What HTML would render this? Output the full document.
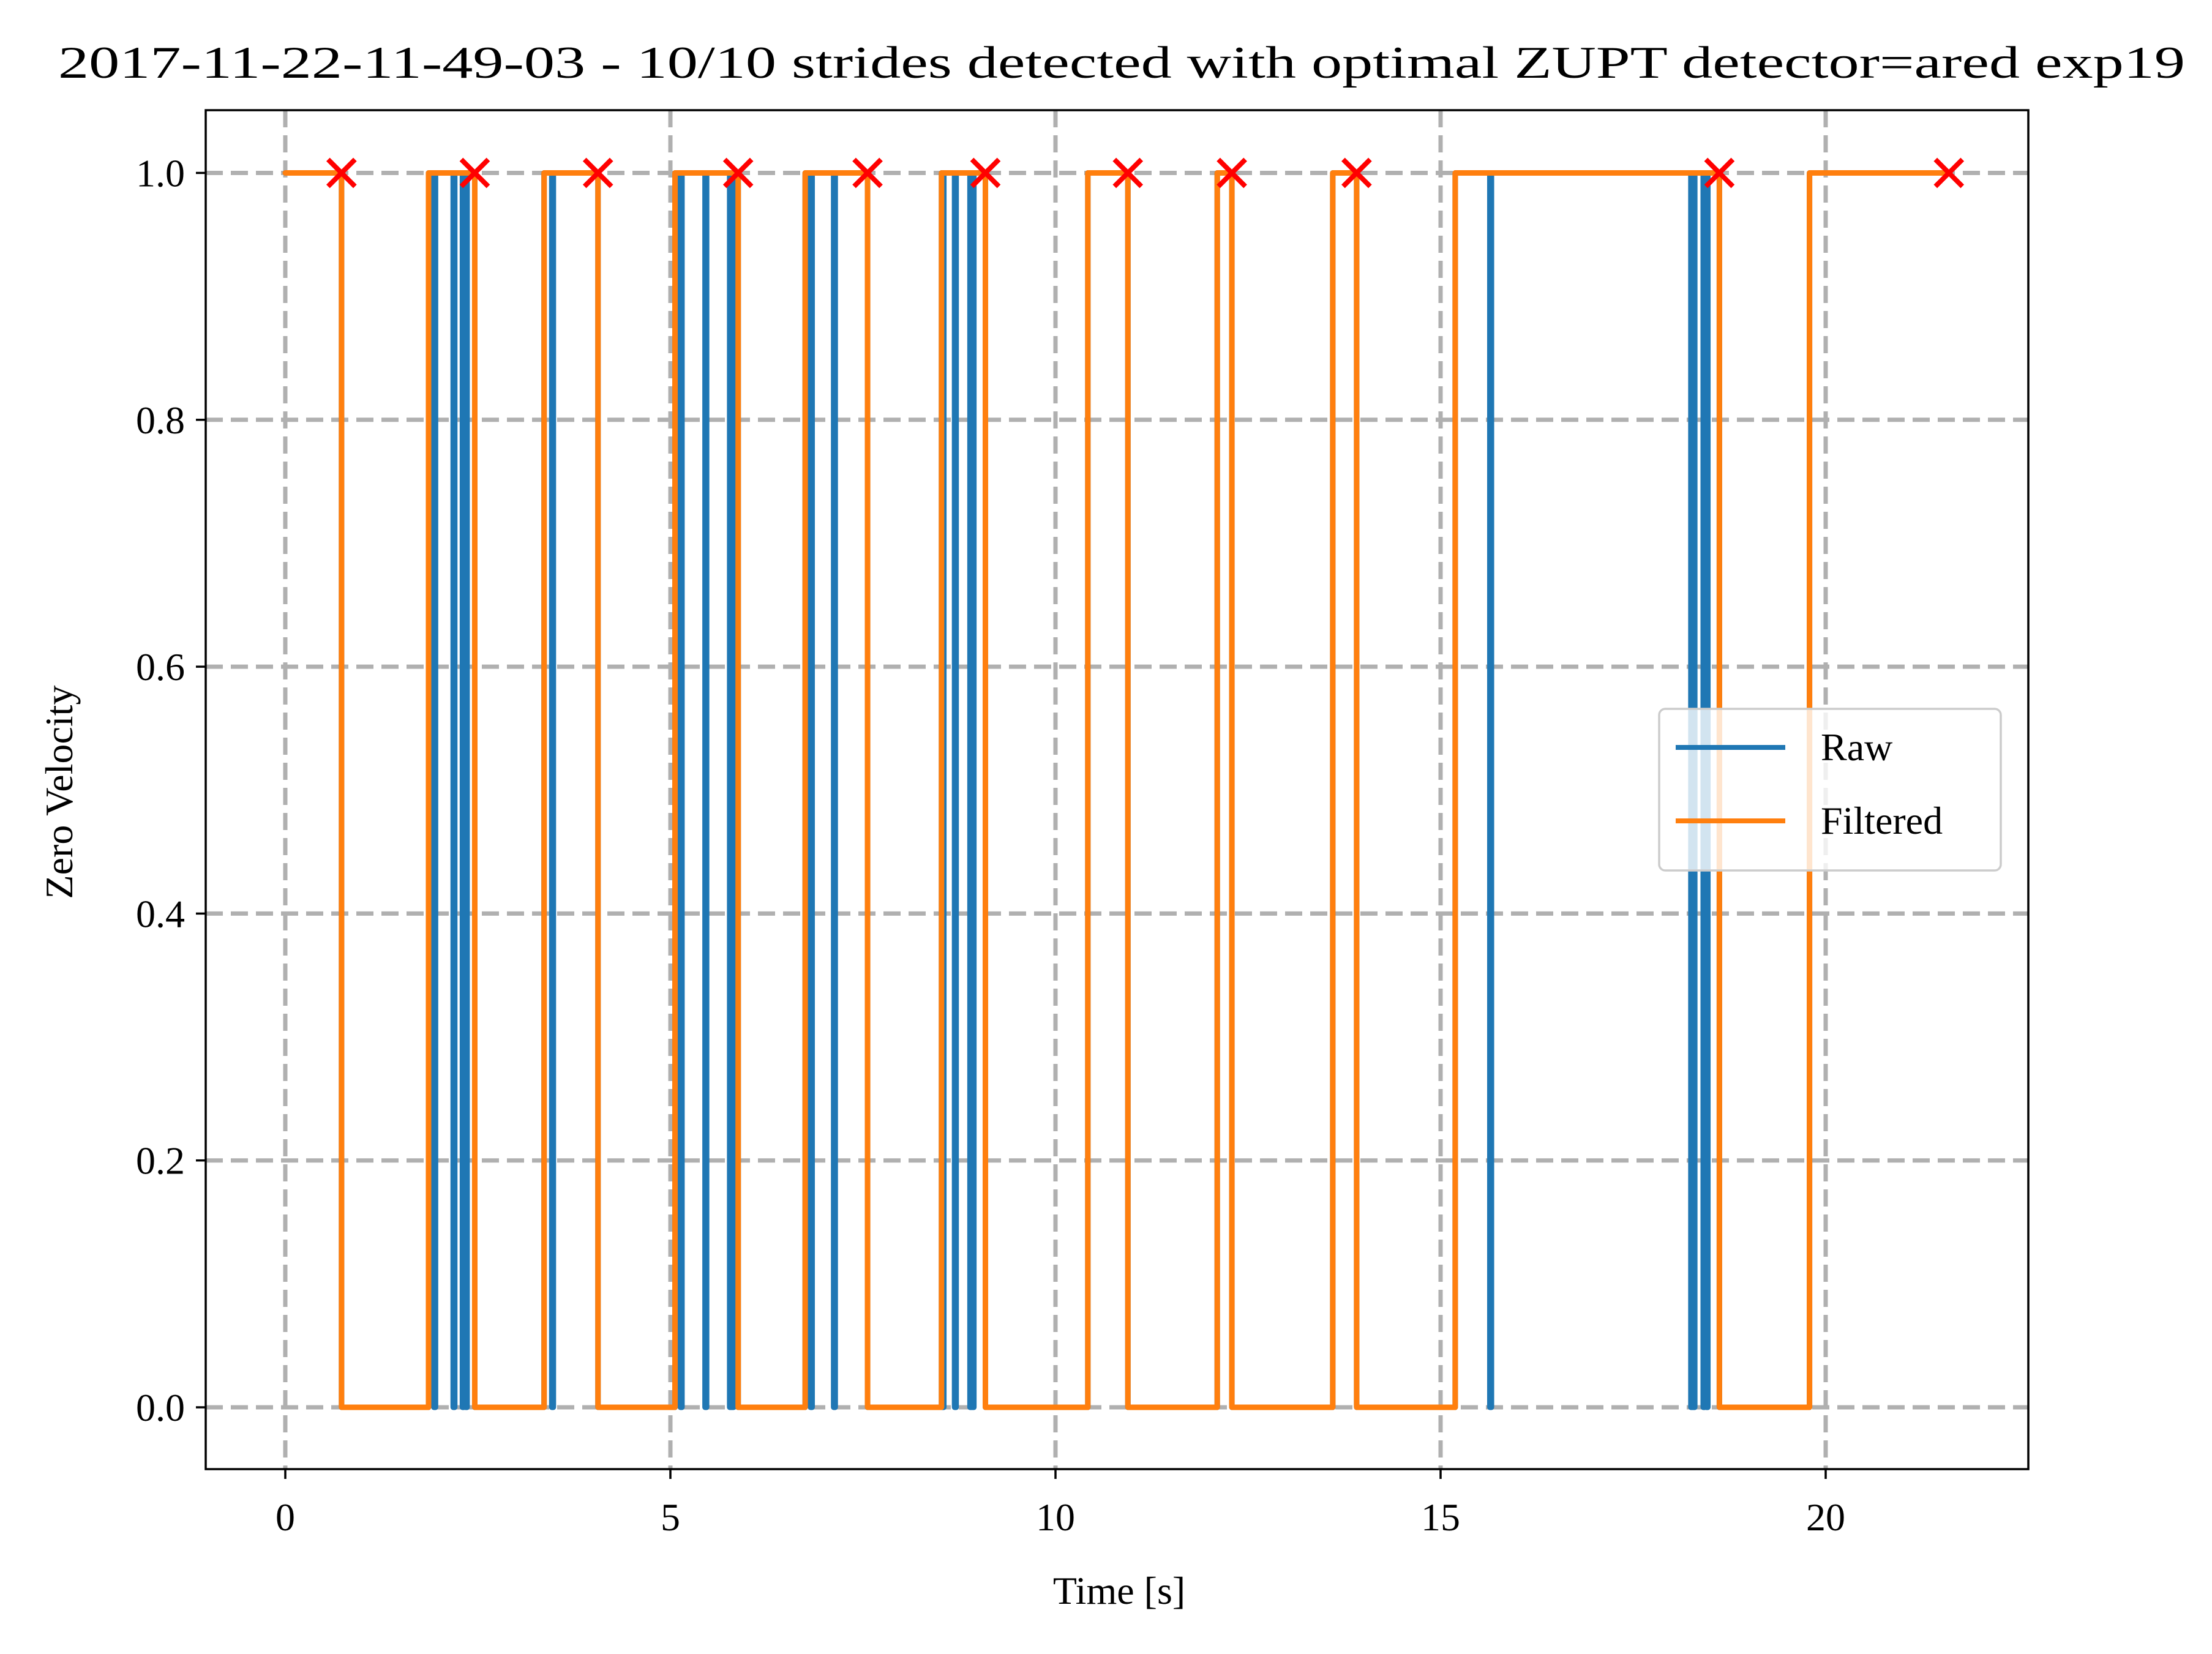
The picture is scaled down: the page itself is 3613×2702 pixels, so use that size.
<!DOCTYPE html>
<html><head><meta charset="utf-8"><style>
html,body{margin:0;padding:0;background:#fff}
svg{display:block}
text{font-family:"Liberation Serif",serif;fill:#000}
</style></head><body>
<svg id="chart" width="3613" height="2702" viewBox="0 0 3613 2702" xmlns="http://www.w3.org/2000/svg">
<rect width="3613" height="2702" fill="#fff"/>
<text x="1832" y="127" font-size="74" text-anchor="middle" textLength="3474" lengthAdjust="spacingAndGlyphs">2017-11-22-11-49-03 - 10/10 strides detected with optimal ZUPT detector=ared exp19</text>
<g id="grid"></g>
<g id="series"></g>
<rect x="336" y="180" width="2977" height="2220" fill="none" stroke="#000" stroke-width="3.5"/>
<g id="ticks"></g>
<text x="1828" y="2620" font-size="64" text-anchor="middle">Time [s]</text>
<text x="0" y="0" font-size="64" text-anchor="middle" transform="translate(118,1294) rotate(-90)">Zero Velocity</text>
<g>
<rect x="2710" y="1158" width="558" height="264" rx="10" fill="#fff" fill-opacity="0.8" stroke="#ccc" stroke-width="3.5"/>
<line x1="2737" y1="1221" x2="2916" y2="1221" stroke="#1f77b4" stroke-width="8"/>
<text x="2974" y="1242" font-size="64">Raw</text>
<line x1="2737" y1="1341" x2="2916" y2="1341" stroke="#ff7f0e" stroke-width="8"/>
<text x="2974" y="1362" font-size="64">Filtered</text>
</g>
</svg>
<script>
const xTicks = [0, 5, 10, 15, 20];
const yTicks = [0.0, 0.2, 0.4, 0.6, 0.8, 1.0];
const yTickLabels = ["0.0", "0.2", "0.4", "0.6", "0.8", "1.0"];
const filteredChangeTimes = [0.73, 1.86, 2.46, 3.36, 4.06, 5.06, 5.88, 6.75, 7.56, 8.52, 9.09, 10.42, 10.94, 12.10, 12.29, 13.60, 13.91, 15.19, 18.62, 19.79];
const filteredStart = 1;
const endTime = 21.6;
const rawDipTimes = [1.93, 2.18, 2.30, 2.34, 3.46, 5.13, 5.45, 5.77, 5.80, 6.82, 7.12, 8.53, 8.69, 8.89, 8.92, 15.64, 18.25, 18.28, 18.41, 18.45];
const strideTimes = [0.73, 2.46, 4.06, 5.88, 7.56, 9.09, 10.94, 12.29, 13.91, 18.62, 21.6];

const NS = "http://www.w3.org/2000/svg";
const X = t => 466 + t * 125.8;
const Y = v => 2299 - v * 2016.5;
function mk(tag, attrs, parent) {
  const e = document.createElementNS(NS, tag);
  for (const k in attrs) e.setAttribute(k, attrs[k]);
  parent.appendChild(e);
  return e;
}
const grid = document.getElementById('grid');
const ticks = document.getElementById('ticks');
const series = document.getElementById('series');
xTicks.forEach(t => {
  const g = mk('line', {x1: X(t), x2: X(t), y1: 180, y2: 2400, stroke: '#b0b0b0', 'stroke-width': 7, 'stroke-dasharray': '28 13'}, grid);
  
  
  const tk = mk('line', {x1: X(t), x2: X(t), y1: 2400, y2: 2416, stroke: '#000', 'stroke-width': 3.5}, ticks);
  
  
  const tl = mk('text', {x: X(t), y: 2500, 'font-size': 64, 'text-anchor': 'middle'}, ticks);
  
  
  tl.textContent = String(t);
});
yTicks.forEach((v, i) => {
  const g = mk('line', {x1: 336, x2: 3313, y1: Y(v), y2: Y(v), stroke: '#b0b0b0', 'stroke-width': 7, 'stroke-dasharray': '28 13'}, grid);
  
  
  const tk = mk('line', {x1: 320, x2: 336, y1: Y(v), y2: Y(v), stroke: '#000', 'stroke-width': 3.5}, ticks);
  
  
  const tl = mk('text', {x: 302, y: Y(v) + 22, 'font-size': 64, 'text-anchor': 'end'}, ticks);
  
  
  tl.textContent = yTickLabels[i];
});
let fv = filteredStart;
let fd = `M${X(0)},${Y(fv)}`;
filteredChangeTimes.forEach(t => { fd += ` L${X(t)},${Y(fv)}`; fv = 1 - fv; fd += ` L${X(t)},${Y(fv)}`; });
fd += ` L${X(endTime)},${Y(fv)}`;
let events = filteredChangeTimes.map(t => ({t, k: 'c'})).concat(rawDipTimes.map(t => ({t, k: 'd'})));
events.sort((a, b) => a.t - b.t);
let rv = filteredStart;
let rd = `M${X(0)},${Y(rv)}`;
const dw = 0.02;
events.forEach(e => {
  if (e.k === 'c') { rd += ` L${X(e.t)},${Y(rv)}`; rv = 1 - rv; rd += ` L${X(e.t)},${Y(rv)}`; }
  else { rd += ` L${X(e.t)},${Y(1)} L${X(e.t)},${Y(0)} L${X(e.t + dw)},${Y(0)} L${X(e.t + dw)},${Y(1)}`; }
});
rd += ` L${X(endTime)},${Y(rv)}`;
const raw = mk('path', {d: rd, fill: 'none', stroke: '#1f77b4', 'stroke-width': 9, 'stroke-linejoin': 'round', 'stroke-linecap': 'round'}, series);


const filt = mk('path', {d: fd, fill: 'none', stroke: '#ff7f0e', 'stroke-width': 9, 'stroke-linejoin': 'round', 'stroke-linecap': 'round'}, series);


strideTimes.forEach(t => {
  const cx = X(t), cy = Y(1), s = 22;
  const m = mk('path', {d: `M${cx - s},${cy - s} L${cx + s},${cy + s} M${cx - s},${cy + s} L${cx + s},${cy - s}`, stroke: '#ff0000', 'stroke-width': 8, fill: 'none'}, series);
  
  
});
</script>
</body></html>
